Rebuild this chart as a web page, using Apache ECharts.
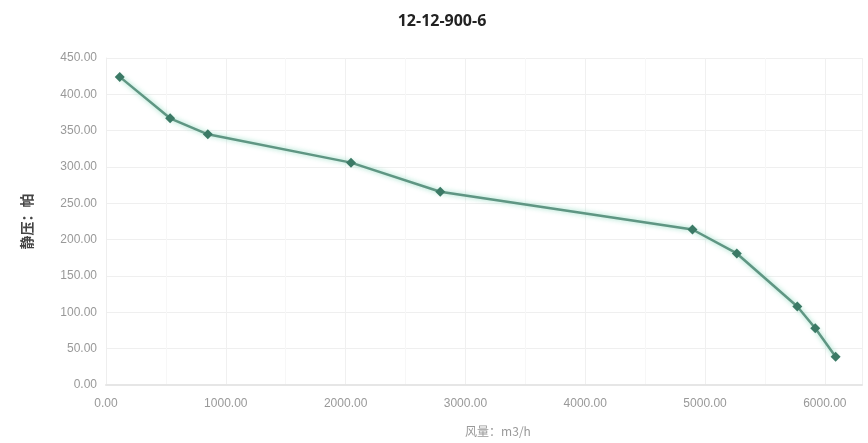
<!DOCTYPE html>
<html><head><meta charset="utf-8">
<script src="https://cdn.jsdelivr.net/npm/echarts@6/dist/echarts.min.js"></script>
<style>html,body{margin:0;padding:0;background:#fff}#c{width:868px;height:443px}</style>
</head><body><div id="c"></div>
<script>
const title = '12-12-900-6';
const xName = '风量：m3/h';
const yName = '静压：帕';
const flow = [115, 535, 850, 2045, 2790, 4895, 5265, 5770, 5920, 6090];
const pressure = [424, 367, 345, 306, 266, 214, 181, 108, 78, 39];

const chart = echarts.init(document.getElementById('c'));
chart.setOption({
  backgroundColor: '#fff',
  animation: false,
  title: {text: title, left: 437, top: 8, textAlign: 'center',
    textStyle: {fontFamily: 'Open Sans', fontSize: 16, fontWeight: 'bold', color: '#222'}},
  grid: {left: 106, top: 58, right: 6, bottom: 58},
  xAxis: {type: 'value', min: 0, max: 6310, interval: 1000,
    name: xName, nameLocation: 'middle', nameGap: 40,
    nameTextStyle: {color: '#999', fontSize: 12, fontFamily: 'Noto Sans CJK SC', padding: [0,0,0,28]},
    axisLine: {show: true, lineStyle: {color: '#e6e6e6', width: 2}},
    axisTick: {show: false},
    axisLabel: {color: '#999', fontSize: 12, fontFamily: 'Liberation Sans', margin: 13,
      showMaxLabel: false, formatter: v => v.toFixed(2)},
    splitLine: {show: true, lineStyle: {color: '#f0f0f0'}},
    minorTick: {show: false, splitNumber: 2},
    minorSplitLine: {show: true, lineStyle: {color: '#f7f7f7'}}},
  yAxis: {type: 'value', min: 0, max: 450, interval: 50,
    name: yName, nameLocation: 'middle', nameGap: 72, nameRotate: 90,
    nameTextStyle: {color: '#444', fontSize: 14, fontWeight: 'bold', fontFamily: 'Noto Sans CJK SC'},
    axisLine: {show: true, lineStyle: {color: '#eeeeee'}},
    axisTick: {show: false},
    axisLabel: {color: '#999', fontSize: 12, fontFamily: 'Liberation Sans', margin: 9,
      formatter: v => v.toFixed(2)},
    splitLine: {show: true, lineStyle: {color: '#efefef'}}},
  series: [{type: 'line', data: flow.map((x, i) => [x, pressure[i]]),
    symbol: 'diamond', symbolSize: 10,
    itemStyle: {color: '#3b7a66'},
    lineStyle: {color: '#5f9683', width: 2.5, shadowColor: 'rgba(130,215,185,0.9)', shadowBlur: 5}}]
});
</script></body></html>
